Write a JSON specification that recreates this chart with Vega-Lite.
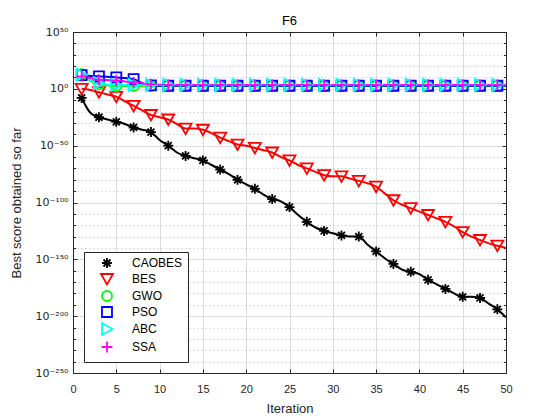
{
"$schema": "https://vega.github.io/schema/vega-lite/v6.json",
"width": 433, "height": 341,
"autosize": {"type": "none"},
"padding": {"left": 73, "top": 32, "right": 54, "bottom": 47},
"background": "white",
"title": {"text": "F6", "fontSize": 13, "fontWeight": "normal", "font": "Liberation Sans", "color": "#000000", "offset": -2},
"data": {"values": [
{"s":"CAOBES","i":1,"v":1e-8},{"s":"CAOBES","i":2,"v":1e-21},{"s":"CAOBES","i":3,"v":1e-25},{"s":"CAOBES","i":4,"v":1e-27},{"s":"CAOBES","i":5,"v":1e-29},{"s":"CAOBES","i":6,"v":1e-31},{"s":"CAOBES","i":7,"v":1e-34},{"s":"CAOBES","i":8,"v":1e-36},{"s":"CAOBES","i":9,"v":1e-38},{"s":"CAOBES","i":10,"v":1e-45},
{"s":"CAOBES","i":11,"v":1e-50},{"s":"CAOBES","i":12,"v":1e-56},{"s":"CAOBES","i":13,"v":1e-59},{"s":"CAOBES","i":14,"v":1e-61},{"s":"CAOBES","i":15,"v":1e-63},{"s":"CAOBES","i":16,"v":1e-67},{"s":"CAOBES","i":17,"v":1e-71},{"s":"CAOBES","i":18,"v":1e-75},{"s":"CAOBES","i":19,"v":1e-80},{"s":"CAOBES","i":20,"v":1e-84},
{"s":"CAOBES","i":21,"v":1e-88},{"s":"CAOBES","i":22,"v":1e-93},{"s":"CAOBES","i":23,"v":1e-97},{"s":"CAOBES","i":24,"v":1e-99},{"s":"CAOBES","i":25,"v":1e-104},{"s":"CAOBES","i":26,"v":1e-111},{"s":"CAOBES","i":27,"v":1e-117},{"s":"CAOBES","i":28,"v":1e-122},{"s":"CAOBES","i":29,"v":1e-125},{"s":"CAOBES","i":30,"v":1e-127},
{"s":"CAOBES","i":31,"v":1e-129},{"s":"CAOBES","i":32,"v":1e-130},{"s":"CAOBES","i":33,"v":1e-130},{"s":"CAOBES","i":34,"v":1e-137},{"s":"CAOBES","i":35,"v":1e-143},{"s":"CAOBES","i":36,"v":1e-149},{"s":"CAOBES","i":37,"v":1e-154},{"s":"CAOBES","i":38,"v":1e-159},{"s":"CAOBES","i":39,"v":1e-161},{"s":"CAOBES","i":40,"v":1e-163},
{"s":"CAOBES","i":41,"v":1e-168},{"s":"CAOBES","i":42,"v":1e-172},{"s":"CAOBES","i":43,"v":1e-176},{"s":"CAOBES","i":44,"v":1e-180},{"s":"CAOBES","i":45,"v":1e-183},{"s":"CAOBES","i":46,"v":1e-183},{"s":"CAOBES","i":47,"v":1e-184},{"s":"CAOBES","i":48,"v":1e-189},{"s":"CAOBES","i":49,"v":1e-194},{"s":"CAOBES","i":50,"v":1e-201},
{"s":"BES","i":1,"v":1},{"s":"BES","i":2,"v":1e-1},{"s":"BES","i":3,"v":1e-3},{"s":"BES","i":4,"v":1e-5},{"s":"BES","i":5,"v":1e-7},{"s":"BES","i":6,"v":1e-11},{"s":"BES","i":7,"v":1e-15},{"s":"BES","i":8,"v":1e-19},{"s":"BES","i":9,"v":1e-23},{"s":"BES","i":10,"v":1e-25},
{"s":"BES","i":11,"v":1e-27},{"s":"BES","i":12,"v":1e-31},{"s":"BES","i":13,"v":1e-35},{"s":"BES","i":14,"v":1e-35},{"s":"BES","i":15,"v":1e-36},{"s":"BES","i":16,"v":1e-39},{"s":"BES","i":17,"v":1e-43},{"s":"BES","i":18,"v":1e-46},{"s":"BES","i":19,"v":1e-49},{"s":"BES","i":20,"v":1e-50},
{"s":"BES","i":21,"v":1e-52},{"s":"BES","i":22,"v":1e-54},{"s":"BES","i":23,"v":1e-56},{"s":"BES","i":24,"v":1e-60},{"s":"BES","i":25,"v":1e-63},{"s":"BES","i":26,"v":1e-67},{"s":"BES","i":27,"v":1e-70},{"s":"BES","i":28,"v":1e-73},{"s":"BES","i":29,"v":1e-76},{"s":"BES","i":30,"v":1e-77},
{"s":"BES","i":31,"v":1e-77},{"s":"BES","i":32,"v":1e-79},{"s":"BES","i":33,"v":1e-81},{"s":"BES","i":34,"v":1e-83},{"s":"BES","i":35,"v":1e-86},{"s":"BES","i":36,"v":1e-92},{"s":"BES","i":37,"v":1e-98},{"s":"BES","i":38,"v":1e-102},{"s":"BES","i":39,"v":1e-105},{"s":"BES","i":40,"v":1e-108},
{"s":"BES","i":41,"v":1e-111},{"s":"BES","i":42,"v":1e-114},{"s":"BES","i":43,"v":1e-117},{"s":"BES","i":44,"v":1e-121},{"s":"BES","i":45,"v":1e-126},{"s":"BES","i":46,"v":1e-130},{"s":"BES","i":47,"v":1e-133},{"s":"BES","i":48,"v":1e-136},{"s":"BES","i":49,"v":1e-138},{"s":"BES","i":50,"v":1e-140},
{"s":"GWO","i":1,"v":1e13},{"s":"GWO","i":2,"v":1e7},{"s":"GWO","i":3,"v":1e4},{"s":"GWO","i":4,"v":1e3},{"s":"GWO","i":5,"v":300},{"s":"GWO","i":6,"v":300},{"s":"GWO","i":7,"v":300},{"s":"GWO","i":8,"v":300},{"s":"GWO","i":9,"v":300},{"s":"GWO","i":10,"v":300},
{"s":"GWO","i":11,"v":300},{"s":"GWO","i":12,"v":300},{"s":"GWO","i":13,"v":300},{"s":"GWO","i":14,"v":300},{"s":"GWO","i":15,"v":300},{"s":"GWO","i":16,"v":300},{"s":"GWO","i":17,"v":300},{"s":"GWO","i":18,"v":300},{"s":"GWO","i":19,"v":300},{"s":"GWO","i":20,"v":300},
{"s":"GWO","i":21,"v":300},{"s":"GWO","i":22,"v":300},{"s":"GWO","i":23,"v":300},{"s":"GWO","i":24,"v":300},{"s":"GWO","i":25,"v":300},{"s":"GWO","i":26,"v":300},{"s":"GWO","i":27,"v":300},{"s":"GWO","i":28,"v":300},{"s":"GWO","i":29,"v":300},{"s":"GWO","i":30,"v":300},
{"s":"GWO","i":31,"v":300},{"s":"GWO","i":32,"v":300},{"s":"GWO","i":33,"v":300},{"s":"GWO","i":34,"v":300},{"s":"GWO","i":35,"v":300},{"s":"GWO","i":36,"v":300},{"s":"GWO","i":37,"v":300},{"s":"GWO","i":38,"v":300},{"s":"GWO","i":39,"v":300},{"s":"GWO","i":40,"v":300},
{"s":"GWO","i":41,"v":300},{"s":"GWO","i":42,"v":300},{"s":"GWO","i":43,"v":300},{"s":"GWO","i":44,"v":300},{"s":"GWO","i":45,"v":300},{"s":"GWO","i":46,"v":300},{"s":"GWO","i":47,"v":300},{"s":"GWO","i":48,"v":300},{"s":"GWO","i":49,"v":300},{"s":"GWO","i":50,"v":300},
{"s":"PSO","i":1,"v":1e12},{"s":"PSO","i":2,"v":2e11},{"s":"PSO","i":3,"v":1e11},{"s":"PSO","i":4,"v":5e10},{"s":"PSO","i":5,"v":1e10},{"s":"PSO","i":6,"v":3e9},{"s":"PSO","i":7,"v":3e8},{"s":"PSO","i":8,"v":1e5},{"s":"PSO","i":9,"v":1e3},{"s":"PSO","i":10,"v":500},
{"s":"PSO","i":11,"v":500},{"s":"PSO","i":12,"v":500},{"s":"PSO","i":13,"v":500},{"s":"PSO","i":14,"v":500},{"s":"PSO","i":15,"v":500},{"s":"PSO","i":16,"v":500},{"s":"PSO","i":17,"v":500},{"s":"PSO","i":18,"v":500},{"s":"PSO","i":19,"v":500},{"s":"PSO","i":20,"v":500},
{"s":"PSO","i":21,"v":500},{"s":"PSO","i":22,"v":500},{"s":"PSO","i":23,"v":500},{"s":"PSO","i":24,"v":500},{"s":"PSO","i":25,"v":500},{"s":"PSO","i":26,"v":500},{"s":"PSO","i":27,"v":500},{"s":"PSO","i":28,"v":500},{"s":"PSO","i":29,"v":500},{"s":"PSO","i":30,"v":500},
{"s":"PSO","i":31,"v":500},{"s":"PSO","i":32,"v":500},{"s":"PSO","i":33,"v":500},{"s":"PSO","i":34,"v":500},{"s":"PSO","i":35,"v":500},{"s":"PSO","i":36,"v":500},{"s":"PSO","i":37,"v":500},{"s":"PSO","i":38,"v":500},{"s":"PSO","i":39,"v":500},{"s":"PSO","i":40,"v":500},
{"s":"PSO","i":41,"v":500},{"s":"PSO","i":42,"v":500},{"s":"PSO","i":43,"v":500},{"s":"PSO","i":44,"v":500},{"s":"PSO","i":45,"v":500},{"s":"PSO","i":46,"v":500},{"s":"PSO","i":47,"v":500},{"s":"PSO","i":48,"v":500},{"s":"PSO","i":49,"v":500},{"s":"PSO","i":50,"v":500},
{"s":"ABC","i":1,"v":3e12},{"s":"ABC","i":2,"v":1e8},{"s":"ABC","i":3,"v":1e5},{"s":"ABC","i":4,"v":5e3},{"s":"ABC","i":5,"v":3e3},{"s":"ABC","i":6,"v":3e3},{"s":"ABC","i":7,"v":3e3},{"s":"ABC","i":8,"v":3e3},{"s":"ABC","i":9,"v":3e3},{"s":"ABC","i":10,"v":3e3},
{"s":"ABC","i":11,"v":3e3},{"s":"ABC","i":12,"v":3e3},{"s":"ABC","i":13,"v":3e3},{"s":"ABC","i":14,"v":3e3},{"s":"ABC","i":15,"v":3e3},{"s":"ABC","i":16,"v":3e3},{"s":"ABC","i":17,"v":3e3},{"s":"ABC","i":18,"v":3e3},{"s":"ABC","i":19,"v":3e3},{"s":"ABC","i":20,"v":3e3},
{"s":"ABC","i":21,"v":3e3},{"s":"ABC","i":22,"v":3e3},{"s":"ABC","i":23,"v":3e3},{"s":"ABC","i":24,"v":3e3},{"s":"ABC","i":25,"v":3e3},{"s":"ABC","i":26,"v":3e3},{"s":"ABC","i":27,"v":3e3},{"s":"ABC","i":28,"v":3e3},{"s":"ABC","i":29,"v":3e3},{"s":"ABC","i":30,"v":3e3},
{"s":"ABC","i":31,"v":3e3},{"s":"ABC","i":32,"v":3e3},{"s":"ABC","i":33,"v":3e3},{"s":"ABC","i":34,"v":3e3},{"s":"ABC","i":35,"v":3e3},{"s":"ABC","i":36,"v":3e3},{"s":"ABC","i":37,"v":3e3},{"s":"ABC","i":38,"v":3e3},{"s":"ABC","i":39,"v":3e3},{"s":"ABC","i":40,"v":3e3},
{"s":"ABC","i":41,"v":3e3},{"s":"ABC","i":42,"v":3e3},{"s":"ABC","i":43,"v":3e3},{"s":"ABC","i":44,"v":3e3},{"s":"ABC","i":45,"v":3e3},{"s":"ABC","i":46,"v":3e3},{"s":"ABC","i":47,"v":3e3},{"s":"ABC","i":48,"v":3e3},{"s":"ABC","i":49,"v":3e3},{"s":"ABC","i":50,"v":3e3},
{"s":"SSA","i":1,"v":1e11},{"s":"SSA","i":2,"v":3e9},{"s":"SSA","i":3,"v":1e8},{"s":"SSA","i":4,"v":5e7},{"s":"SSA","i":5,"v":2e7},{"s":"SSA","i":6,"v":3e6},{"s":"SSA","i":7,"v":5e5},{"s":"SSA","i":8,"v":5e4},{"s":"SSA","i":9,"v":1e4},{"s":"SSA","i":10,"v":4e3},
{"s":"SSA","i":11,"v":2e3},{"s":"SSA","i":12,"v":2e3},{"s":"SSA","i":13,"v":2e3},{"s":"SSA","i":14,"v":2e3},{"s":"SSA","i":15,"v":2e3},{"s":"SSA","i":16,"v":2e3},{"s":"SSA","i":17,"v":2e3},{"s":"SSA","i":18,"v":2e3},{"s":"SSA","i":19,"v":2e3},{"s":"SSA","i":20,"v":2e3},
{"s":"SSA","i":21,"v":2e3},{"s":"SSA","i":22,"v":2e3},{"s":"SSA","i":23,"v":2e3},{"s":"SSA","i":24,"v":2e3},{"s":"SSA","i":25,"v":2e3},{"s":"SSA","i":26,"v":2e3},{"s":"SSA","i":27,"v":2e3},{"s":"SSA","i":28,"v":2e3},{"s":"SSA","i":29,"v":2e3},{"s":"SSA","i":30,"v":2e3},
{"s":"SSA","i":31,"v":2e3},{"s":"SSA","i":32,"v":2e3},{"s":"SSA","i":33,"v":2e3},{"s":"SSA","i":34,"v":2e3},{"s":"SSA","i":35,"v":2e3},{"s":"SSA","i":36,"v":2e3},{"s":"SSA","i":37,"v":2e3},{"s":"SSA","i":38,"v":2e3},{"s":"SSA","i":39,"v":2e3},{"s":"SSA","i":40,"v":2e3},
{"s":"SSA","i":41,"v":2e3},{"s":"SSA","i":42,"v":2e3},{"s":"SSA","i":43,"v":2e3},{"s":"SSA","i":44,"v":2e3},{"s":"SSA","i":45,"v":2e3},{"s":"SSA","i":46,"v":2e3},{"s":"SSA","i":47,"v":2e3},{"s":"SSA","i":48,"v":2e3},{"s":"SSA","i":49,"v":2e3},{"s":"SSA","i":50,"v":2e3}
]},
"layer": [
{
"mark": {"type": "line", "strokeWidth": 2, "interpolate": "monotone", "clip": true},
"encoding": {
"x": {"field": "i", "type": "quantitative", "scale": {"domain": [0, 50], "nice": false},
 "axis": {"orient": "bottom", "values": [0,5,10,15,20,25,30,35,40,45,50], "title": "Iteration", "grid": true, "gridColor": "#dcdcdc", "tickSize": -4, "labelPadding": 14, "titlePadding": 8, "labelFlush": false}},
"y": {"field": "v", "type": "quantitative", "scale": {"type": "log", "domain": [1e-250, 1e50], "nice": false},
 "axis": {"orient": "left", "title": "Best score obtained so far",
  "values": [1e50,1e40,1e30,1e20,1e10,1,1e-10,1e-20,1e-30,1e-40,1e-50,1e-60,1e-70,1e-80,1e-90,1e-100,1e-110,1e-120,1e-130,1e-140,1e-150,1e-160,1e-170,1e-180,1e-190,1e-200,1e-210,1e-220,1e-230,1e-240,1e-250],
  "labelExpr": "round(log(datum.value)/LN10) === 50 ? '10⁵⁰' : round(log(datum.value)/LN10) === 0 ? '10⁰' : round(log(datum.value)/LN10) === -50 ? '10⁻⁵⁰' : round(log(datum.value)/LN10) === -100 ? '10⁻¹⁰⁰' : round(log(datum.value)/LN10) === -150 ? '10⁻¹⁵⁰' : round(log(datum.value)/LN10) === -200 ? '10⁻²⁰⁰' : round(log(datum.value)/LN10) === -250 ? '10⁻²⁵⁰' : ''",
  "labelOverlap": false, "labelFlush": false, "labelFont": "DejaVu Sans", "labelFontSize": 11,
  "grid": true,
  "gridColor": {"condition": {"test": "round(log(datum.value)/LN10) % 50 === 0", "value": "#dcdcdc"}, "value": "#b8b8b8"},
  "gridDash": {"condition": {"test": "round(log(datum.value)/LN10) % 50 === 0", "value": []}, "value": [1, 3]},
  "tickSize": {"condition": {"test": "round(log(datum.value)/LN10) % 50 === 0", "value": -4}, "value": -2.5},
  "labelPadding": 9, "titlePadding": 11}},
"color": {"field": "s", "type": "nominal", "scale": {"domain": ["CAOBES","BES","GWO","PSO","ABC","SSA"], "range": ["#000000","#ff0000","#00ff00","#0000ff","#00ffff","#ff00ff"]},
 "legend": {"title": null, "orient": "bottom-left", "offset": 11}}
}
},
{
"transform": [{"filter": "datum.i % 2 === 1"}],
"mark": {"type": "point", "filled": false, "size": 100, "strokeWidth": 1.8, "opacity": 1, "clip": true},
"encoding": {
"x": {"field": "i", "type": "quantitative", "axis": {"orient": "top", "values": [0,5,10,15,20,25,30,35,40,45,50], "labels": false, "title": null, "grid": false, "tickSize": -4}},
"y": {"field": "v", "type": "quantitative",
 "axis": {"orient": "right", "labels": false, "title": null, "grid": false,
  "values": [1e50,1e40,1e30,1e20,1e10,1,1e-10,1e-20,1e-30,1e-40,1e-50,1e-60,1e-70,1e-80,1e-90,1e-100,1e-110,1e-120,1e-130,1e-140,1e-150,1e-160,1e-170,1e-180,1e-190,1e-200,1e-210,1e-220,1e-230,1e-240,1e-250],
  "tickSize": {"condition": {"test": "round(log(datum.value)/LN10) % 50 === 0", "value": -4}, "value": -2.5}}},
"color": {"field": "s", "type": "nominal",
 "legend": {"title": null, "orient": "bottom-left", "offset": 11,
  "encode": {"symbols": {"shape": {"value": {"expr": "datum.value === 'CAOBES' ? 'M-4,0L4,0M-1.1,0L1.1,0M0,-1.1L0,1.1M-0.8,-0.8L0.8,0.8M-0.8,0.8L0.8,-0.8' : datum.value === 'BES' ? 'M-4,0L4,0M-1.2,-1L1.2,-1L0,1.1Z' : datum.value === 'GWO' ? 'M-4,0L4,0M1,0A1,1,0,1,1,-1,0A1,1,0,1,1,1,0Z' : datum.value === 'PSO' ? 'M-4,0L4,0M-0.9,-0.9L0.9,-0.9L0.9,0.9L-0.9,0.9Z' : datum.value === 'ABC' ? 'M-4,0L4,0M-1,-1.2L-1,1.2L1.1,0Z' : 'M-4,0L4,0M-1.2,0L1.2,0M0,-1.2L0,1.2'"}}}}}},
"shape": {"field": "s", "type": "nominal",
 "scale": {"domain": ["CAOBES","BES","GWO","PSO","ABC","SSA"],
  "range": ["M-1,0L1,0M0,-1L0,1M-0.7,-0.7L0.7,0.7M-0.7,0.7L0.7,-0.7", "M-1.2,-1L1.2,-1L0,1.1Z", "circle", "square", "M-1,-1.2L-1,1.2L1.1,0Z", "M-1.1,0L1.1,0M0,-1.1L0,1.1"]},
 "legend": null}
}
}
],
"resolve": {"axis": {"x": "independent", "y": "independent"}},
"config": {
"view": {"stroke": "#262626", "strokeWidth": 1},
"axis": {"domainColor": "#262626", "tickColor": "#262626", "labelColor": "#262626", "titleColor": "#262626", "labelFont": "Liberation Sans", "titleFont": "Liberation Sans", "labelFontSize": 11, "titleFontSize": 13, "titleFontWeight": "normal", "domainWidth": 1},
"legend": {"padding": 5, "strokeColor": "#262626", "fillColor": "#ffffff", "labelFont": "Liberation Sans", "labelFontSize": 12, "labelColor": "#000000", "symbolSize": 100, "symbolStrokeWidth": 1.8, "symbolOffset": 12, "labelOffset": 19, "rowPadding": -2, "cornerRadius": 0}
}
}
